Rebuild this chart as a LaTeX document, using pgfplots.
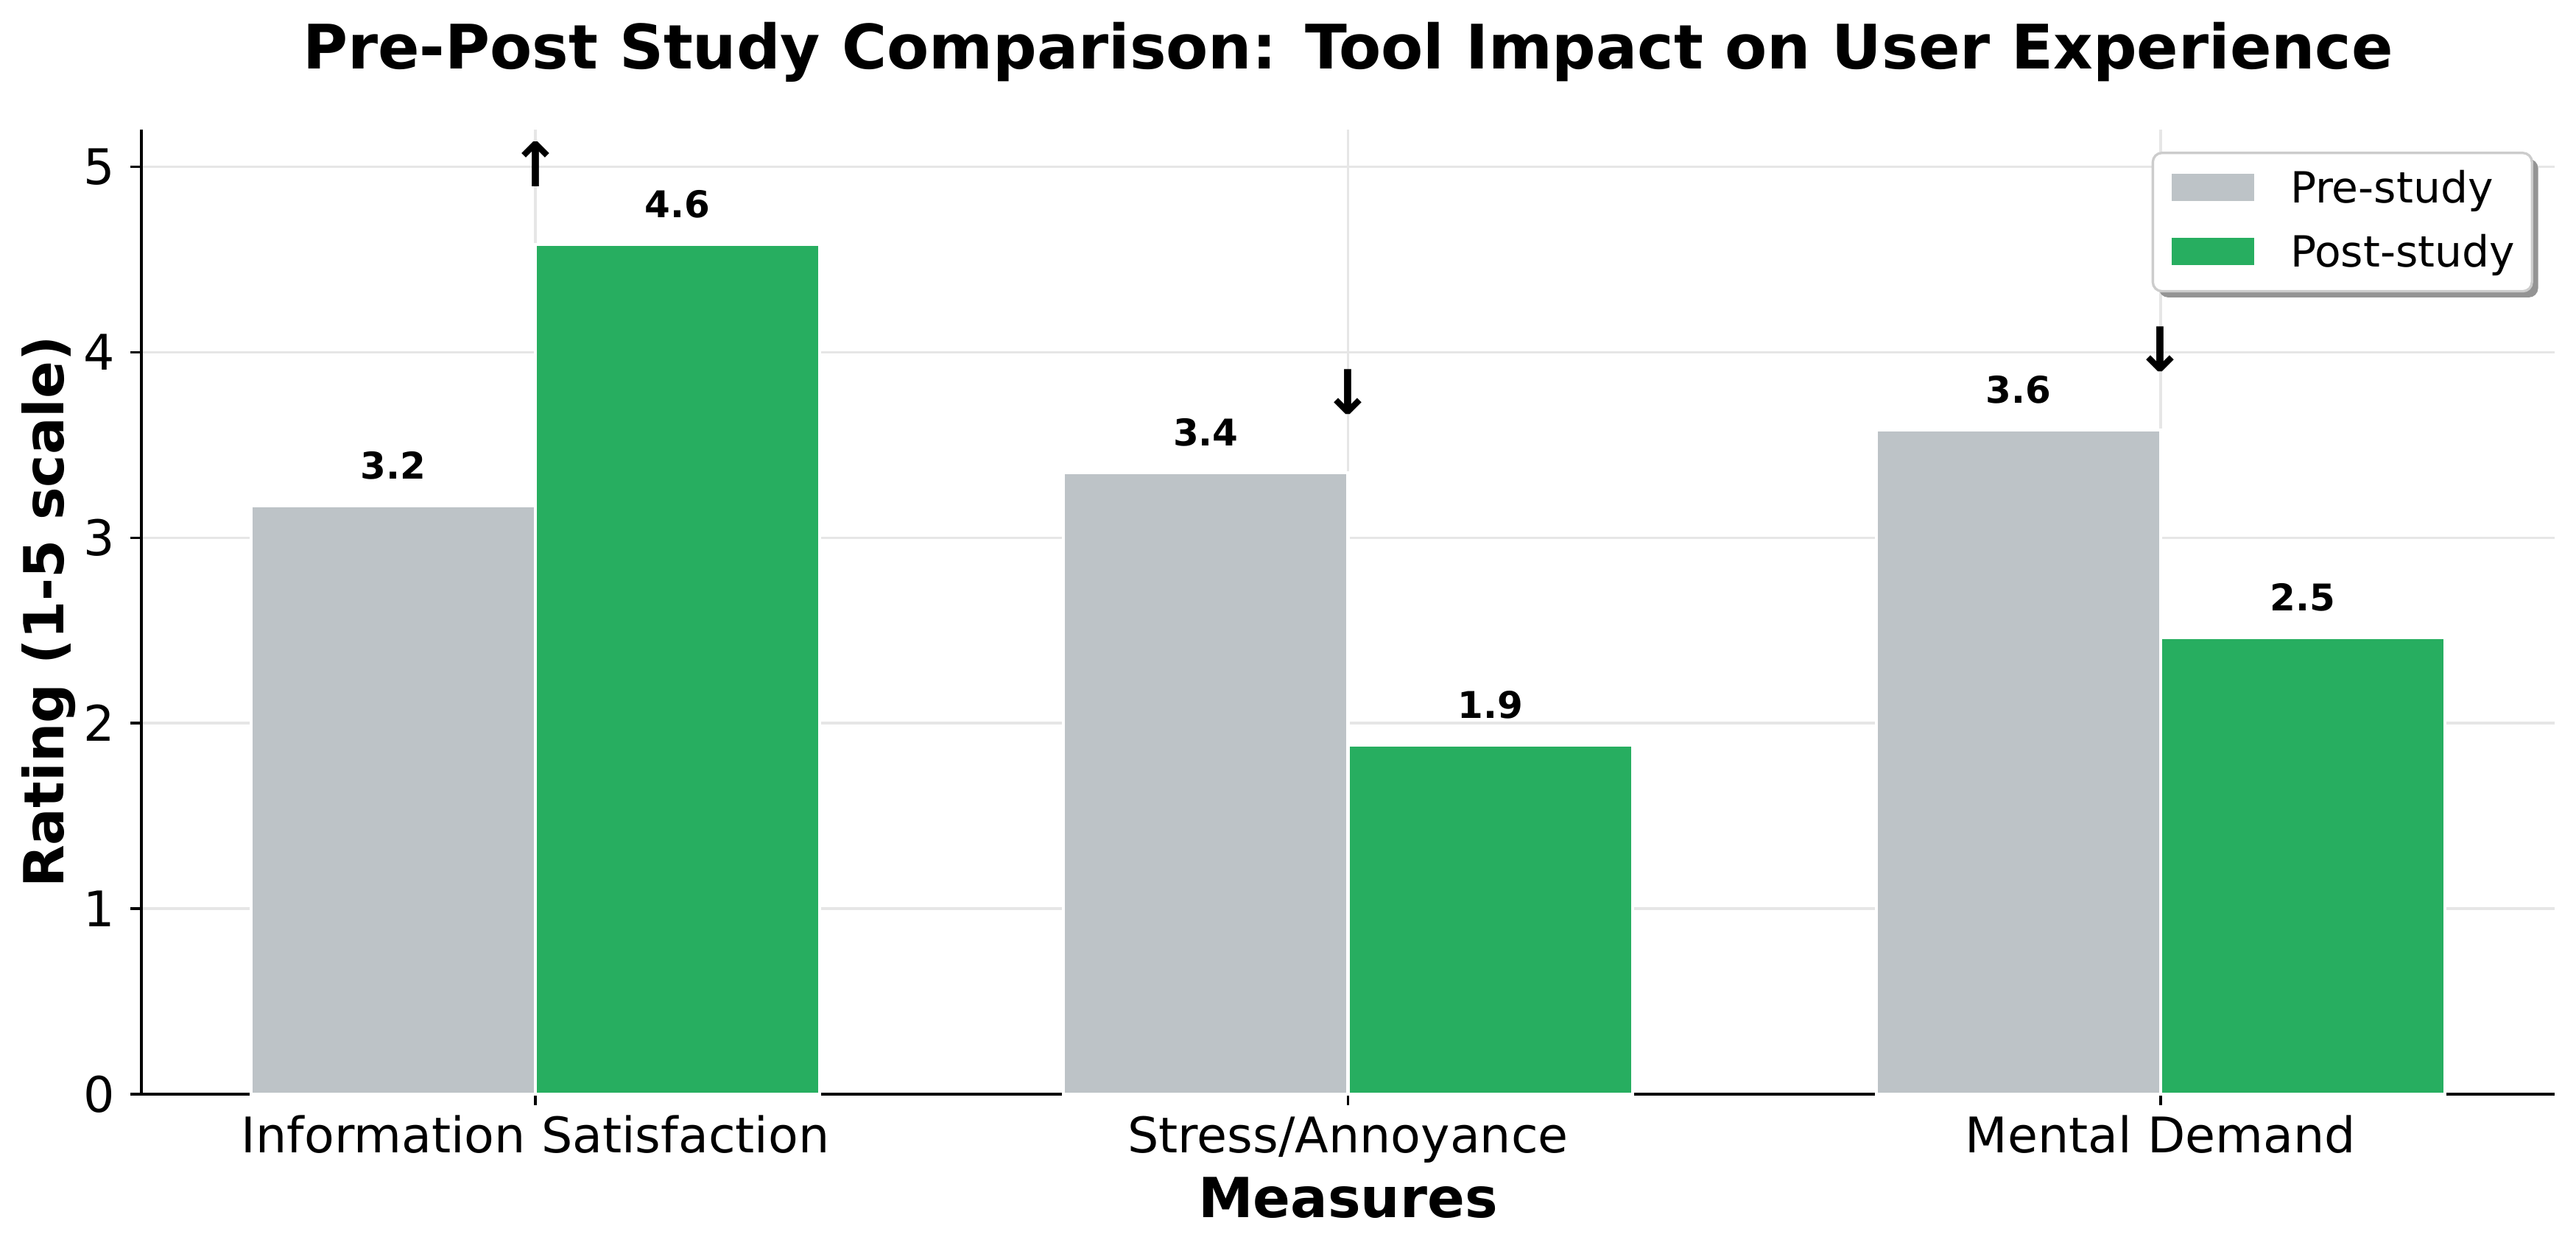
\documentclass[border=0pt]{standalone}
\usepackage{pgfplots}
\pgfplotsset{compat=1.18}
\usepackage{pgfplotstable}
\usepackage{fontspec}
\setmainfont{DejaVu Sans}
\usetikzlibrary{shadows}

\definecolor{prebar}{HTML}{BDC3C7}
\definecolor{postbar}{HTML}{27AE60}
\definecolor{gridc}{HTML}{E6E6E6}
\newcommand{\fs}[1]{\fontsize{#1}{#1}\selectfont}

% ratings per measure (x = group position)
\pgfplotstableread{
x pre  post prelab postlab arrow
0 3.17 4.58 3.2    4.6     ↑
1 3.35 1.88 3.4    1.9     ↓
2 3.58 2.46 3.6    2.5     ↓
}\ratings

\pgfplotsset{
  mybar/.style={ybar, bar width=0.35, bar shift=0pt, fill=#1, draw=white, line width=1pt,
    legend image code/.code={
      \begin{pgfscope}
      \pgfsetcornersarced{\pgfpointorigin}
      \pgfpathrectangle{\pgfpoint{0pt}{-4pt}}{\pgfpoint{28pt}{9.6pt}}
      \pgfusepath{use as bounding box}
      \pgfsetfillcolor{#1}
      \pgfpathrectangle{\pgfpoint{0.5pt}{-3.6pt}}{\pgfpoint{27pt}{8.8pt}}
      \pgfusepath{fill}
      \end{pgfscope}}},
  vlabel/.style={draw=none, mark=none, forget plot, nodes near coords,
    point meta=explicit symbolic,
    nodes near coords style={anchor=base, inner sep=0pt, yshift=8.8pt,
      font=\fs{12}\bfseries, text=black}},
}

\begin{document}
\begin{tikzpicture}
\path[use as bounding box] (-46.08pt,-51.12pt) rectangle (793.46pt,356.64pt);
\begin{axis}[
  at={(0,0)}, anchor=south west,
  scale only axis, width=786.5pt, height=314.4pt,
  xmin=-0.485, xmax=2.485, ymin=0, ymax=5.2,
  clip=false,
  axis x line*=bottom, axis y line*=left,
  axis line style={line width=0.8pt, black},
  xtick={0,1,2},
  xticklabels={Information Satisfaction, Stress/Annoyance, Mental Demand},
  ytick={0,1,2,3,4,5},
  yticklabels={0,1,2,3,4,5},
  tick align=outside, major tick length=3.5pt,
  tick style={line width=0.8pt, black},
  xticklabel style={font=\fs{16}, anchor=base, inner sep=0pt, yshift=-15.7pt},
  yticklabel style={font=\fs{16}, anchor=east, inner sep=0pt, xshift=-4.9pt},
  grid=major, major grid style={gridc, line width=0.8pt},
  every axis title/.style={at={(axis description cs:0.5,1)}, anchor=base,
    yshift=19.7pt, font=\fs{20}\bfseries},
  title={Pre-Post Study Comparison: Tool Impact on User Experience},
  every axis x label/.style={at={(axis description cs:0.5,0)}, anchor=base,
    yshift=-40.1pt, font=\fs{18}\bfseries},
  xlabel={Measures},
  every axis y label/.style={at={([xshift=-25.2pt]axis description cs:0,0.5)},
    rotate=90, anchor=base, font=\fs{18}\bfseries},
  ylabel={Rating (1-5 scale)},
  legend cell align=left,
  legend style={at={(axis description cs:1,1)}, anchor=north east,
    xshift=-7pt, yshift=-7.2pt,
    draw=black!20, line width=0.8pt, rounded corners=3pt, fill=white,
    general shadow={fill=black!42, shadow xshift=2pt, shadow yshift=-2pt},
    inner xsep=5.6pt, inner ysep=5.6pt, row sep=7.9pt,
    font=\fs{14},
    nodes={inner sep=0pt, text height=10.7pt, text depth=2.3pt},
    /tikz/every odd column/.style={column sep=11.2pt}},
]
\addplot[mybar=prebar] table[x expr=\thisrow{x}-0.175, y=pre] {\ratings};
\addlegendentry{Pre-study}
\addplot[mybar=postbar] table[x expr=\thisrow{x}+0.175, y=post] {\ratings};
\addlegendentry{Post-study}
\addplot[vlabel] table[x expr=\thisrow{x}-0.175, y=pre, meta=prelab] {\ratings};
\addplot[vlabel] table[x expr=\thisrow{x}+0.175, y=post, meta=postlab] {\ratings};
\addplot[draw=none, mark=none, forget plot, nodes near coords,
  point meta=explicit symbolic,
  nodes near coords style={anchor=center, inner sep=0pt, font=\fs{20}\bfseries, text=black}]
  table[x=x, y expr={max(\thisrow{pre},\thisrow{post})+0.435}, meta=arrow] {\ratings};
\end{axis}
\end{tikzpicture}
\end{document}
